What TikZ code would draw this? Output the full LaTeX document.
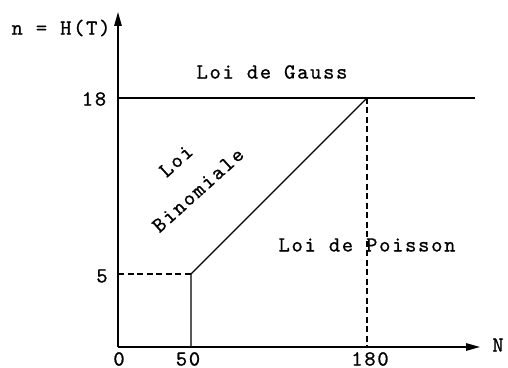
\documentclass[tikz,border=0pt]{standalone}
\usepackage{fontspec}
\newfontfamily\plotfont{lmmono10-regular.otf}[LetterSpace=8,FakeBold=0.8]
\usetikzlibrary{arrows.meta}
\tikzset{
  lbl/.style={font=\fontsize{21.5}{26}\plotfont,inner sep=0pt},
  guide/.style={dashed,dash pattern=on 6pt off 3.5pt}
}

\begin{document}
\begin{tikzpicture}[>={Triangle[length=14pt,width=7.5pt]},x=1pt,y=1pt,line width=1.3pt]
  % 1 unit = 1 px of the original figure, origin at the corner of the axes
  \useasboundingbox (-118,-20) rectangle (390,347);
  \coordinate (O) at (0,0);
  \coordinate (ytop) at (0,335);
  \coordinate (xend) at (362,0);
  \coordinate (y18) at (0,249);
  \coordinate (y5) at (0,73);
  \coordinate (x50) at (73,0);
  \coordinate (x180) at (249,0);
  \coordinate (A) at (73,73);    % N=50, n=5
  \coordinate (B) at (249,249);  % N=180, n=18
  \coordinate (gend) at (357,249);

  \draw[->] (O) -- (xend);
  \draw[->] (O) -- (ytop);
  \draw (y18) -- (gend);
  \draw (x50) -- (A) -- (B);
  \draw[guide] (y5) -- (A);
  \draw[guide] (B) -- (x180);

  \node[lbl] (nlab) at (-57,319) {n = H(T)};
  \node[lbl] (Nlab) at (380,2) {N};
  \node[lbl] (t18) at (-24,248) {18};
  \node[lbl] (t5) at (-16,71) {5};
  \node[lbl] (t0) at (1,-12) {0};
  \node[lbl] (t50) at (70,-12) {50};
  \node[lbl] (t180) at (252,-12) {180};

  \node[lbl] (gauss) at (154,275) {Loi de Gauss};
  \node[lbl] (poisson) at (249,102) {Loi de Poisson};
  \node[lbl,rotate=42] (binA) at (58,186) {Loi};
  \node[lbl,rotate=42] (binB) at (80,157) {Binomiale};
\end{tikzpicture}
\end{document}
